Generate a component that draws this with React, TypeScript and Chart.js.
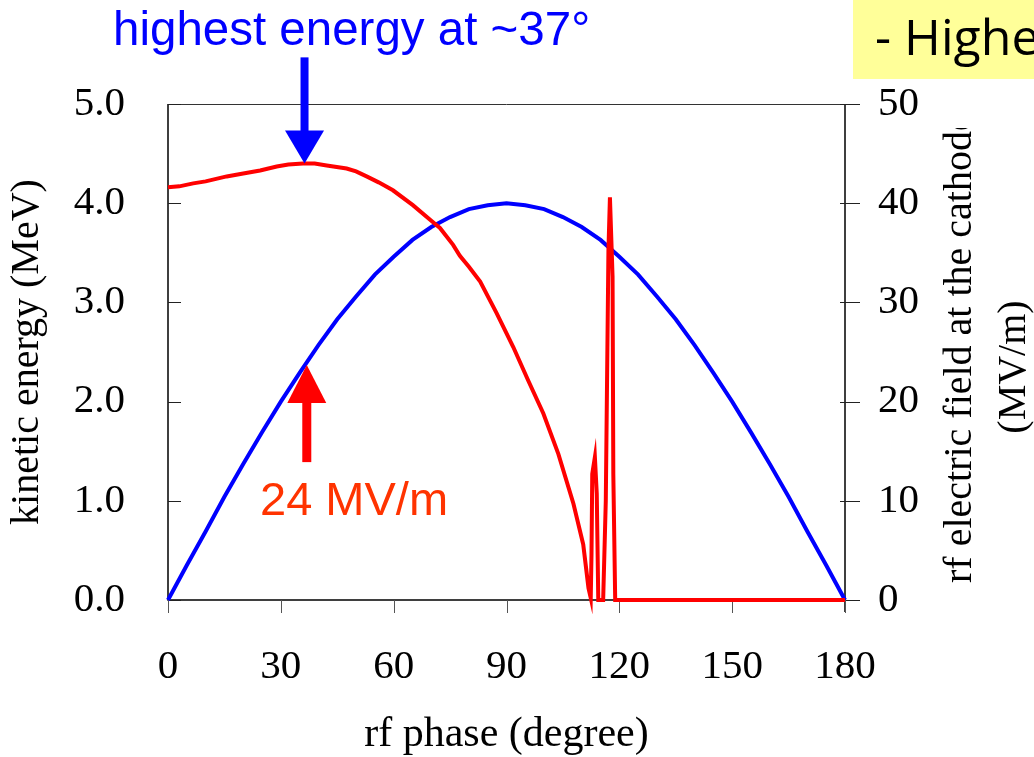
import React, { useEffect, useRef } from "react";
import { Chart, registerables } from "chart.js";

Chart.register(...registerables);

// ---------- data ----------
const phaseTicks = [0, 30, 60, 90, 120, 150, 180];
const energyTicks = [0, 1, 2, 3, 4, 5];
const fieldTicks = [0, 10, 20, 30, 40, 50];

// kinetic energy (MeV) vs rf phase (degree) — red
const redPhase = [
  0, 3, 6.7, 10, 15.6, 20, 24.5, 28.9, 32, 35.9,
  39, 42.2, 47.5, 50, 52.8, 56, 59.8, 65.1, 70.4, 72.3,
  75.8, 77.6, 80, 83, 87.4, 91.8, 95.8, 99.8, 103.8, 107.8,
  110.4, 111.8, 112.4, 112.6, 112.8, 113.5, 114.0, 114.4, 115.7, 116.4,
  117.1, 117.5, 118.2, 118.4, 118.9, 150, 180,
];
const redEnergy = [
  4.16, 4.17, 4.2, 4.22, 4.27, 4.3, 4.33, 4.37, 4.39, 4.4,
  4.4, 4.38, 4.35, 4.32, 4.27, 4.21, 4.13, 3.98, 3.81, 3.75,
  3.58, 3.47, 3.36, 3.21, 2.89, 2.55, 2.21, 1.88, 1.47, 0.97,
  0.56, 0.12, 0.02, 0.46, 1.27, 1.44, 1.07, 0, 0, 1.0,
  3.52, 4.06, 3.26, 1.27, 0, 0, 0,
];

// rf electric field at the cathode (MV/m) vs rf phase — blue
const bluePhase = [
  0, 5, 10, 15, 20, 25, 30, 35, 40, 45, 50, 55, 60, 65, 70, 75, 80, 85, 90,
  95, 100, 105, 110, 115, 120, 125, 130, 135, 140, 145, 150, 155, 160, 165, 170, 175, 180,
];
const blueField = [
  0, 3.5, 6.9, 10.4, 13.7, 16.9, 20.0, 22.9, 25.7, 28.3, 30.6, 32.8, 34.6, 36.3, 37.6, 38.6, 39.4, 39.8, 40.0,
  39.8, 39.4, 38.6, 37.6, 36.3, 34.6, 32.8, 30.6, 28.3, 25.7, 22.9, 20.0, 16.9, 13.7, 10.4, 6.9, 3.5, 0,
];

// annotations (in data units)
const peakArrowPhase = 36.3; // blue arrow pointing at the energy maximum
const peakArrowTipEnergy = 4.4;
const peakArrowTailEnergy = 5.47;
const fieldArrowPhase = 36.9; // red arrow pointing at 24 MV/m
const fieldArrowTip = 23.7;
const fieldArrowTail = 13.9;

const SERIF = '"Liberation Serif", "Times New Roman", Times, serif';
const SANS = '"Liberation Sans", Arial, Helvetica, sans-serif';

const framePlugin = {
  id: "frame",
  beforeDatasetsDraw(chart: any) {
    const ctx = chart.ctx as CanvasRenderingContext2D;
    const { left, right, top, bottom } = chart.chartArea;
    const xs = chart.scales.x;
    const ys = chart.scales.y;
    const y2 = chart.scales.y2;
    ctx.save();
    // top border (thin)
    ctx.strokeStyle = "#333";
    ctx.lineWidth = 1;
    ctx.beginPath();
    ctx.moveTo(left, top + 0.5);
    ctx.lineTo(right, top + 0.5);
    ctx.stroke();
    // axes
    ctx.strokeStyle = "#000";
    ctx.lineWidth = 1.5;
    ctx.beginPath();
    ctx.moveTo(left, top);
    ctx.lineTo(left, bottom);
    ctx.lineTo(right, bottom);
    ctx.moveTo(right, top);
    ctx.lineTo(right, bottom + 12);
    ctx.stroke();
    // ticks
    ctx.lineWidth = 1;
    ctx.strokeStyle = "#222";
    ctx.beginPath();
    energyTicks.forEach((v) => {
      const y = Math.round(ys.getPixelForValue(v)) + 0.5;
      ctx.moveTo(left, y);
      ctx.lineTo(left + 13, y);
    });
    fieldTicks.forEach((v) => {
      const y = Math.round(y2.getPixelForValue(v)) + 0.5;
      ctx.moveTo(right - 5, y);
      ctx.lineTo(right + 15, y);
    });
    ctx.stroke();
    ctx.strokeStyle = "#555";
    ctx.beginPath();
    phaseTicks.forEach((v) => {
      const x = Math.round(xs.getPixelForValue(v)) + 0.5;
      ctx.moveTo(x, bottom);
      ctx.lineTo(x, bottom + 13);
    });
    ctx.stroke();
    ctx.restore();
  },
  afterDraw(chart: any) {
    const ctx = chart.ctx as CanvasRenderingContext2D;
    const xs = chart.scales.x;
    const ys = chart.scales.y;
    const y2 = chart.scales.y2;
    ctx.save();

    // yellow note box (cut off at the right edge)
    ctx.fillStyle = "#ffff99";
    ctx.fillRect(853, 0, 181, 79);
    ctx.fillStyle = "#000";
    ctx.font = '50px "Comic Sans MS", "Open Sans", sans-serif';
    ctx.textAlign = "left";
    ctx.textBaseline = "alphabetic";
    ctx.fillText("- Highest", 875, 55);

    // blue annotation
    ctx.fillStyle = "#0000ff";
    ctx.font = "47.5px " + SANS;
    ctx.fillText("highest energy at ~37°", 113, 45);
    const bx = xs.getPixelForValue(peakArrowPhase);
    const bTip = ys.getPixelForValue(peakArrowTipEnergy);
    const bTail = ys.getPixelForValue(peakArrowTailEnergy);
    const bHead = 33;
    ctx.fillRect(bx - 4, bTail, 8, bTip - bHead - bTail + 1);
    ctx.beginPath();
    ctx.moveTo(bx - 19.5, bTip - bHead);
    ctx.lineTo(bx + 19.5, bTip - bHead);
    ctx.lineTo(bx, bTip);
    ctx.closePath();
    ctx.fill();

    // red annotation
    ctx.fillStyle = "#ff0000";
    const rx = xs.getPixelForValue(fieldArrowPhase);
    const rTip = y2.getPixelForValue(fieldArrowTip);
    const rTail = y2.getPixelForValue(fieldArrowTail);
    const rHead = 38;
    ctx.fillRect(rx - 4.5, rTip + rHead - 1, 9, rTail - rTip - rHead + 1);
    ctx.beginPath();
    ctx.moveTo(rx - 19.5, rTip + rHead);
    ctx.lineTo(rx + 19.5, rTip + rHead);
    ctx.lineTo(rx, rTip);
    ctx.closePath();
    ctx.fill();
    ctx.fillStyle = "#ff3300";
    ctx.font = "47px " + SANS;
    ctx.fillText("24 MV/m", 260, 515);

    // right axis title (two lines, reading bottom to top, top clipped)
    ctx.fillStyle = "#000";
    ctx.font = "40px " + SERIF;
    ctx.save();
    ctx.beginPath();
    ctx.rect(900, 128, 134, 629);
    ctx.clip();
    ctx.translate(971, 583);
    ctx.rotate(-Math.PI / 2);
    ctx.textAlign = "left";
    ctx.fillText("rf electric field at the cathode", 0, 0);
    ctx.restore();
    ctx.save();
    ctx.translate(1025, 367);
    ctx.rotate(-Math.PI / 2);
    ctx.textAlign = "center";
    ctx.fillText("(MV/m)", 0, 0);
    ctx.restore();

    ctx.restore();
  },
};

export default function App() {
  const ref = useRef<HTMLCanvasElement | null>(null);

  useEffect(() => {
    const canvas = ref.current;
    if (!canvas) return;
    const redData = redPhase.map((p, i) => ({ x: p, y: redEnergy[i] }));
    const blueData = bluePhase.map((p, i) => ({ x: p, y: blueField[i] }));

    const chart = new Chart(canvas, {
      type: "line",
      data: {
        datasets: [
          {
            label: "kinetic energy",
            data: redData,
            yAxisID: "y",
            borderColor: "#ff0000",
            backgroundColor: "#ff0000",
            borderWidth: 4,
            pointRadius: 0,
            tension: 0,
            fill: false,
            clip: false as any,
          },
          {
            label: "rf electric field",
            data: blueData,
            yAxisID: "y2",
            borderColor: "#0000ff",
            backgroundColor: "#0000ff",
            borderWidth: 4,
            pointRadius: 0,
            tension: 0,
            fill: false,
            clip: false as any,
          },
        ],
      },
      options: {
        responsive: false,
        animation: false,
        devicePixelRatio: 1,
        layout: { padding: { top: 104, left: 0, right: 0, bottom: 0 } },
        plugins: {
          legend: { display: false },
          tooltip: { enabled: false },
          title: { display: false },
        },
        scales: {
          x: {
            type: "linear",
            position: "bottom",
            min: 0,
            max: 180,
            afterBuildTicks: (s: any) => {
              s.ticks = phaseTicks.map((v) => ({ value: v }));
            },
            afterFit: (s: any) => {
              s.height = 157;
            },
            grid: { display: false, drawTicks: false },
            border: { display: false },
            ticks: {
              autoSkip: false,
              maxRotation: 0,
              padding: 43,
              color: "#000",
              font: { family: SERIF, size: 41 },
              callback: (v: any) => String(v),
            },
            title: {
              display: true,
              text: "rf phase (degree)",
              color: "#000",
              font: { family: SERIF, size: 42, lineHeight: 1 },
              padding: { top: 0, bottom: 1 },
            },
          },
          y: {
            type: "linear",
            position: "left",
            min: 0,
            max: 5,
            afterBuildTicks: (s: any) => {
              s.ticks = energyTicks.map((v) => ({ value: v }));
            },
            afterFit: (s: any) => {
              s.width = 168;
            },
            grid: { display: false, drawTicks: false },
            border: { display: false },
            ticks: {
              padding: 43,
              color: "#000",
              font: { family: SERIF, size: 41 },
              callback: (v: any) => Number(v).toFixed(1),
            },
            title: {
              display: true,
              text: "kinetic energy (MeV)",
              color: "#000",
              font: { family: SERIF, size: 40, lineHeight: 1.2 },
              padding: { top: 3, bottom: 0 },
            },
          },
          y2: {
            type: "linear",
            position: "right",
            min: 0,
            max: 50,
            afterBuildTicks: (s: any) => {
              s.ticks = fieldTicks.map((v) => ({ value: v }));
            },
            afterFit: (s: any) => {
              s.width = 189;
            },
            grid: { display: false, drawTicks: false },
            border: { display: false },
            ticks: {
              padding: 33,
              color: "#000",
              font: { family: SERIF, size: 41 },
              callback: (v: any) => String(v),
            },
          },
        },
      } as any,
      plugins: [framePlugin],
    });
    return () => chart.destroy();
  }, []);

  return (
    <div style={{ position: "absolute", left: 0, top: 0, width: 1034, height: 757, background: "#fff" }}>
      <canvas ref={ref} width={1034} height={757} style={{ display: "block", width: 1034, height: 757 }} />
    </div>
  );
}
